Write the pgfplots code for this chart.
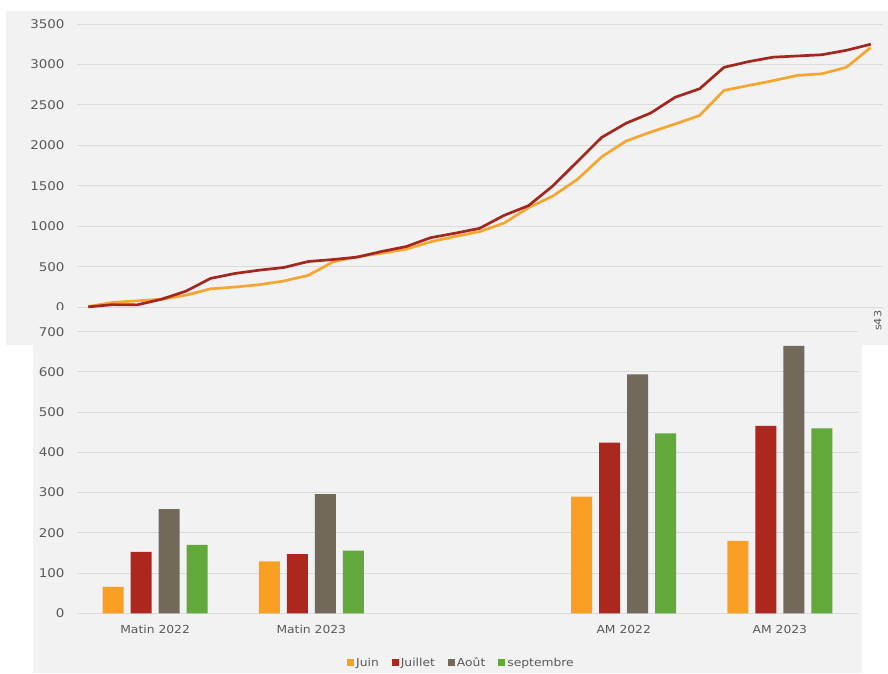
\documentclass[border=0pt]{standalone}
\usepackage{fontspec}
\setmainfont{DejaVu Sans}[FakeStretch=1.12]
\usepackage{pgfplots}
\usepackage{pgfplotstable}
\pgfplotsset{compat=1.18}

\definecolor{panel}{HTML}{F2F2F2}
\definecolor{gridc}{HTML}{DADADA}
\definecolor{txt}{HTML}{595959}
\definecolor{lorange}{HTML}{F7A531}
\definecolor{lred}{HTML}{A2271F}
\definecolor{bjuin}{HTML}{F9A024}
\definecolor{bjuil}{HTML}{AC271D}
\definecolor{baout}{HTML}{72695A}
\definecolor{bsept}{HTML}{63A83B}

% cumul par semaine (s11 -> s43)
\pgfplotstableread{
week orange rouge
11 10 5
12 60 33
13 80 30
14 100 100
15 150 200
16 228 357
17 250 418
18 280 459
19 325 492
20 395 566
21 560 590
22 625 620
23 668 690
24 718 750
25 810 860
26 875 915
27 935 975
28 1040 1135
29 1230 1255
30 1375 1500
31 1580 1800
32 1860 2100
33 2055 2275
34 2165 2400
35 2265 2595
36 2370 2700
37 2680 2965
38 2740 3035
39 2800 3090
40 2865 3105
41 2885 3120
42 2965 3175
43 3210 3250
}\cumul

% barres par mois (x=2 reste vide)
\pgfplotstableread{
cat juin juil aout sept
0 66 153 259 170
1 129 147 296 156
3 290 424 594 447
4 180 466 665 460
}\barres

\pgfplotsset{
  panelaxis/.style={
    scale only axis,
    axis line style={draw=none},
    major tick length=0pt,
    tick style={draw=none},
    ymajorgrids,
    grid style={gridc, line width=0.9pt},
    /pgf/number format/.cd, 1000 sep={}, assume math mode=true,
    /pgfplots/.cd,
    yticklabel style={font=\fontsize{12}{12}\selectfont, text=txt, xshift=-9pt},
  }
}

\begin{document}
\begin{tikzpicture}
\useasboundingbox (0pt,0pt) rectangle (888pt,673pt);
\fill[white] (0pt,0pt) rectangle (888pt,673pt);
\fill[panel] (6pt,328pt) rectangle (888pt,662pt);

% courbe cumulée
\begin{axis}[
  panelaxis,
  at={(77pt,365.7pt)}, anchor=south west,
  width=806pt, height=283.3pt,
  xmin=10.54, xmax=43.5,
  ymin=0, ymax=3500,
  ytick={0,500,...,3500},
  xtick={43}, xticklabels={s43},
  xticklabel style={rotate=90, anchor=east, font=\fontsize{10}{10}\selectfont, text=txt, yshift=-7pt},
  clip=false,
]
\addplot[lorange, line width=2.7pt, line join=round] table[x=week, y=orange] {\cumul};
\addplot[lred, line width=2.7pt, line join=round] table[x=week, y=rouge] {\cumul};
\end{axis}

\fill[panel] (33pt,0pt) rectangle (862pt,363pt);

% barres
\begin{axis}[
  panelaxis,
  at={(77pt,59.7pt)}, anchor=south west,
  width=781pt, height=281.6pt,
  xmin=-0.5, xmax=4.5,
  ymin=0, ymax=700,
  ytick={0,100,...,700},
  xtick={0,1,3,4},
  xticklabels={Matin 2022, Matin 2023, AM 2022, AM 2023},
  xticklabel style={font=\fontsize{11}{11}\selectfont, text=txt, yshift=-8pt},
  ybar=7pt, bar width=21pt,
  legend columns=4,
  legend image code/.code={\fill[#1] (0pt,-3.5pt) rectangle (7pt,3.5pt);},
  legend style={at={(axis description cs:0.4923,-0.176)}, anchor=center,
    draw=none, fill=none, font=\fontsize{11}{11}\selectfont, text=txt,
    /tikz/every even column/.append style={column sep=11pt}},
]
\addplot[fill=bjuin, draw=none] table[x=cat, y=juin] {\barres};
\addplot[fill=bjuil, draw=none] table[x=cat, y=juil] {\barres};
\addplot[fill=baout, draw=none] table[x=cat, y=aout] {\barres};
\addplot[fill=bsept, draw=none] table[x=cat, y=sept] {\barres};
\legend{Juin, Juillet, Août, septembre}
\end{axis}
\end{tikzpicture}
\end{document}
